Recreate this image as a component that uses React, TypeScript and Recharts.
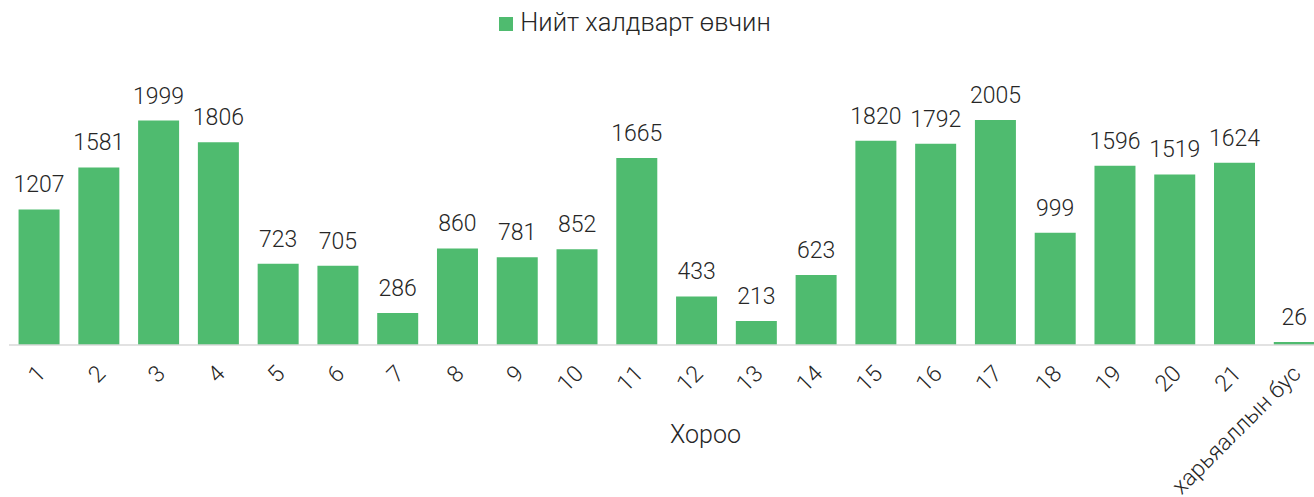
import React from 'react';
import { BarChart, Bar, XAxis, YAxis, Legend, LabelList } from 'recharts';

const categories = [
  '1', '2', '3', '4', '5', '6', '7', '8', '9', '10', '11',
  '12', '13', '14', '15', '16', '17', '18', '19', '20', '21', 'харьяаллын бус',
];
const totals = [
  1207, 1581, 1999, 1806, 723, 705, 286, 860, 781, 852, 1665,
  433, 213, 623, 1820, 1792, 2005, 999, 1596, 1519, 1624, 26,
];

const data = categories.map((name, i) => ({ name, total: totals[i] }));

const FONT = 'Roboto, "Noto Sans", sans-serif';
const GREEN = '#4fbb6f';
const TEXT = '#262626';

const RotatedTick = (props: any) => {
  const { x, y, payload } = props;
  return (
    <g transform={`translate(${x + 8},${y + 22})`}>
      <text
        textAnchor="end"
        transform="rotate(-45)"
        fontSize={23}
        fontWeight={300}
        fontFamily={FONT}
        fill={TEXT}
      >
        {payload.value}
      </text>
    </g>
  );
};

const App: React.FC = () => {
  return (
    <div
      style={{
        position: 'absolute',
        left: 0,
        top: 0,
        width: 1314,
        height: 497,
        overflow: 'hidden',
        background: '#fff',
        fontFamily: FONT,
      }}
    >
      <BarChart
        width={1324}
        height={497}
        data={data}
        margin={{ top: 98, right: 0, bottom: 0, left: 9 }}
        barCategoryGap="16%"
      >
        <Legend
          verticalAlign="middle"
          align="center"
          iconType="square"
          iconSize={14}
          wrapperStyle={{ top: 7, left: 490, width: 300, fontSize: 25.5, fontWeight: 300, fontFamily: FONT }}
          formatter={(value) => <span style={{ color: TEXT, marginLeft: 3 }}>{value}</span>}
        />
        <XAxis
          dataKey="name"
          interval={0}
          height={152}
          tickLine={false}
          axisLine={{ stroke: '#d9d9d9', strokeWidth: 1.5 }}
          tick={<RotatedTick />}
          label={(props: any) => {
            const vb = props.viewBox;
            return (
              <text
                x={vb.x + vb.width / 2 + 39}
                y={vb.y + 98}
                textAnchor="middle"
                fontSize={25}
                fontWeight={300}
                fontFamily={FONT}
                fill={TEXT}
              >
                Хороо
              </text>
            );
          }}
        />
        <YAxis hide domain={[0, 2200]} />
        <Bar dataKey="total" name="Нийт халдварт өвчин" fill={GREEN} isAnimationActive={false}>
          <LabelList
            dataKey="total"
            position="top"
            offset={17}
            fontSize={23}
            fontWeight={300}
            fontFamily={FONT}
            fill={TEXT}
          />
        </Bar>
      </BarChart>
    </div>
  );
};

export default App;
